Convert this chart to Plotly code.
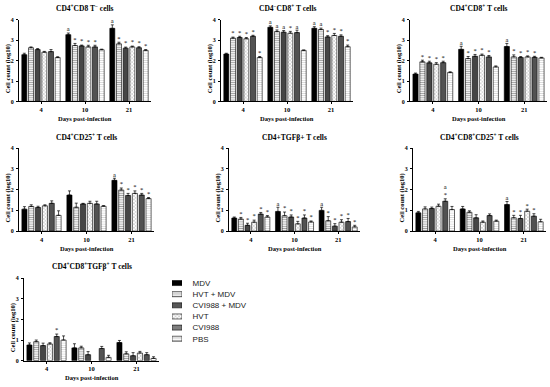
import plotly.graph_objects as go

series = ["MDV", "HVT + MDV", "CVI988 + MDV", "HVT", "CVI988", "PBS"]
days = ["4", "10", "21"]

titles = [
    "CD4<sup>+</sup>CD8 T<sup>−</sup> cells",
    "CD4<sup>−</sup>CD8<sup>+</sup> T cells",
    "CD4<sup>+</sup>CD8<sup>+</sup> T cells",
    "CD4<sup>+</sup>CD25<sup>+</sup> T cells",
    "CD4+TGFβ+ T cells",
    "CD4<sup>+</sup>CD8<sup>+</sup>CD25<sup>+</sup> T cells",
    "CD4<sup>+</sup>CD8<sup>+</sup>TGFβ<sup>+</sup> T cells",
]

# rows = series (MDV, HVT+MDV, CVI988+MDV, HVT, CVI988, PBS); columns = days 4, 10, 21
p1_mean = [[2.29, 3.27, 3.58], [2.63, 2.74, 2.82], [2.54, 2.72, 2.61], [2.41, 2.67, 2.67], [2.44, 2.67, 2.63], [2.15, 2.53, 2.50]]
p1_err = [[0.07, 0.08, 0.17], [0.04, 0.10, 0.08], [0.05, 0.04, 0.05], [0.04, 0.08, 0.04], [0.10, 0.08, 0.05], [0.04, 0.03, 0.04]]
p1_sig = [["", "a", "a"], ["", "*", "*"], ["", "*", "*"], ["", "*", "*"], ["", "*", "*"], ["", "", "*"]]

p2_mean = [[2.32, 3.63, 3.58], [3.10, 3.42, 3.52], [3.13, 3.39, 3.16], [3.07, 3.34, 3.23], [3.19, 3.37, 3.19], [2.15, 2.50, 2.68]]
p2_err = [[0.04, 0.07, 0.08], [0.05, 0.08, 0.07], [0.06, 0.08, 0.06], [0.06, 0.09, 0.10], [0.05, 0.12, 0.07], [0.05, 0.02, 0.08]]
p2_sig = [["", "a", "a"], ["*", "a", "a"], ["*", "a", "*"], ["*", "*", "*"], ["*", "a", "*"], ["*", "", "*"]]

p3_mean = [[1.34, 2.55, 2.69], [1.94, 2.10, 2.18], [1.89, 2.21, 2.15], [1.82, 2.26, 2.18], [1.90, 2.18, 2.16], [1.42, 1.69, 2.13]]
p3_err = [[0.05, 0.15, 0.15], [0.08, 0.10, 0.10], [0.08, 0.09, 0.05], [0.08, 0.06, 0.05], [0.07, 0.07, 0.05], [0.03, 0.05, 0.03]]
p3_sig = [["", "a", "a"], ["*", "*", "*"], ["*", "*", "*"], ["*", "*", "*"], ["*", "*", "*"], ["", "", ""]]

p4_mean = [[1.06, 1.74, 2.45], [1.19, 1.15, 1.98], [1.14, 1.31, 1.72], [1.22, 1.34, 1.82], [1.34, 1.31, 1.74], [0.76, 1.20, 1.57]]
p4_err = [[0.12, 0.20, 0.10], [0.08, 0.20, 0.10], [0.06, 0.03, 0.10], [0.05, 0.10, 0.12], [0.12, 0.13, 0.08], [0.22, 0.03, 0.05]]
p4_sig = [["", "", "a"], ["", "", "*"], ["", "", "*"], ["", "", "*"], ["", "", "*"], ["", "", "*"]]

p5_mean = [[0.63, 0.95, 1.00], [0.58, 0.74, 0.50], [0.28, 0.68, 0.24], [0.43, 0.35, 0.43], [0.82, 0.63, 0.46], [0.68, 0.44, 0.20]]
p5_err = [[0.05, 0.20, 0.15], [0.08, 0.18, 0.20], [0.10, 0.10, 0.12], [0.10, 0.12, 0.12], [0.08, 0.15, 0.15], [0.07, 0.05, 0.08]]
p5_sig = [["", "a", "a"], ["*", "*", "*"], ["*", "*", "*"], ["*", "*", "*"], ["*", "*", "*"], ["*", "*", "*"]]

p6_mean = [[0.88, 1.07, 1.28], [1.07, 0.91, 0.64], [1.09, 0.64, 0.61], [1.20, 0.43, 0.96], [1.44, 0.75, 0.72], [1.04, 0.48, 0.45]]
p6_err = [[0.07, 0.12, 0.15], [0.10, 0.07, 0.12], [0.07, 0.15, 0.15], [0.10, 0.06, 0.10], [0.12, 0.08, 0.12], [0.15, 0.05, 0.12]]
p6_sig = [["", "", "a"], ["", "", "*"], ["", "", "*"], ["", "", "*"], ["a<br>*", "", "*"], ["", "", ""]]

p7_mean = [[0.76, 0.62, 0.88], [0.92, 0.62, 0.33], [0.73, 0.29, 0.24], [0.81, None, 0.37], [1.17, 0.59, 0.29], [1.00, 0.16, 0.11]]
p7_err = [[0.10, 0.20, 0.10], [0.08, 0.08, 0.10], [0.12, 0.15, 0.15], [0.06, None, 0.08], [0.12, 0.10, 0.10], [0.20, 0.10, 0.08]]
p7_sig = [["", "", ""], ["", "", ""], ["", "", ""], ["", "", ""], ["*", "", ""], ["", "", ""]]

panels = [
    (p1_mean, p1_err, p1_sig), (p2_mean, p2_err, p2_sig), (p3_mean, p3_err, p3_sig),
    (p4_mean, p4_err, p4_sig), (p5_mean, p5_err, p5_sig), (p6_mean, p6_err, p6_sig),
    (p7_mean, p7_err, p7_sig),
]

# styles
bg = ["#000000", "#ffffff", "#333333", "#ffffff", "#5e5e5e", "#ffffff"]
shape = ["", "-", ".", "x", "|", "-"]
fg = ["#000000", "#444444", "#9a9a9a", "#555555", "#222222", "#b0b0b0"]
psize = [3, 2.2, 2, 2.5, 2, 2.2]
psol = [0.3, 0.45, 0.35, 0.3, 0.4, 0.35]

W, H = 550, 387
# plot area pixels: (x0, x1, ytop, ybottom)
boxes = [(19, 151, 17, 100), (221, 353, 17, 100), (410, 547, 17, 100),
         (19, 154, 147.5, 231.7), (229, 360, 147.5, 231.7), (413, 546, 147.5, 231.7),
         (24, 159, 279.5, 363.3)]
title_y = [5.5, 5.5, 5.5, 136.5, 136.5, 136.5, 267]
xtitle_y = [117.5, 117.5, 117.5, 249, 249, 249, 380]

serif = "Liberation Serif"
fig = go.Figure()
layout = dict(
    width=W, height=H, margin=dict(l=0, r=0, t=0, b=0),
    paper_bgcolor="white", plot_bgcolor="white",
    barmode="group", bargap=0.09, bargroupgap=0.25,
    scattermode="group", scattergap=0.09,
    showlegend=False, annotations=[],
)

for i, (mean, err, sig) in enumerate(panels):
    k = i + 1
    xa = "x" if k == 1 else f"x{k}"
    ya = "y" if k == 1 else f"y{k}"
    for s in range(6):
        fig.add_trace(go.Bar(
            x=days, y=mean[s], name=series[s], xaxis=xa, yaxis=ya,
            offsetgroup=str(s),
            marker=dict(color=bg[s], line=dict(color="black", width=0.6),
                        pattern=dict(shape=shape[s], fgcolor=fg[s], bgcolor=bg[s],
                                     size=psize[s], solidity=psol[s], fillmode="overlay")),
            error_y=dict(type="data", array=err[s], arrayminus=[0, 0, 0], symmetric=False,
                         color="black", thickness=0.7, width=1.5),
            hoverinfo="skip",
        ))
    for s in range(6):
        ytxt = [(m + e) if (m is not None and e is not None and t) else None
                for m, e, t in zip(mean[s], err[s], sig[s])]
        txt = [t if t else None for t in sig[s]]
        fig.add_trace(go.Scatter(
            x=days, y=ytxt, text=txt, mode="text", textposition="top center",
            textfont=dict(family=serif, size=6.5, color="black"),
            xaxis=xa, yaxis=ya, offsetgroup=str(s), cliponaxis=False, hoverinfo="skip",
        ))
    x0, x1, yt, yb = boxes[i]
    axstyle = dict(showline=True, linecolor="black", linewidth=1, ticks="outside",
                   ticklen=2, tickwidth=0.8, tickcolor="black", showgrid=False,
                   zeroline=False, fixedrange=True)
    layout["xaxis" if k == 1 else f"xaxis{k}"] = dict(
        domain=[x0 / W, x1 / W], anchor=ya, type="category",
        categoryorder="array", categoryarray=days,
        tickfont=dict(family=serif, size=6.5, color="black", weight="bold"), **axstyle)
    layout["yaxis" if k == 1 else f"yaxis{k}"] = dict(
        domain=[1 - yb / H, 1 - yt / H], anchor=xa, range=[0, 4],
        tickvals=[0, 1, 2, 3, 4], ticklabelstandoff=1,
        tickfont=dict(family=serif, size=6, color="black", weight="bold"), **axstyle)
    cx = (x0 + x1) / 2 / W
    layout["annotations"] += [
        dict(text=titles[i], x=cx, y=1 - title_y[i] / H, xref="paper", yref="paper",
             showarrow=False, xanchor="center", yanchor="middle",
             font=dict(family=serif, size=7.5, color="black", weight="bold")),
        dict(text="Days post-infection", x=cx, y=1 - xtitle_y[i] / H, xref="paper", yref="paper",
             showarrow=False, xanchor="center", yanchor="middle",
             font=dict(family=serif, size=6.5, color="black", weight="bold")),
        dict(text="Cell count (log10)", x=(x0 - 11.5) / W, y=1 - (yb - 0.4 * (yb - yt)) / H,
             xref="paper", yref="paper", textangle=-90,
             showarrow=False, xanchor="center", yanchor="middle",
             font=dict(family=serif, size=6.5, color="black", weight="bold")),
    ]

# legend drawn as a small horizontal-bar key on its own axis
fig.add_trace(go.Bar(
    y=series, x=[1] * 6, orientation="h", xaxis="x8", yaxis="y8", width=0.45,
    marker=dict(color=bg, line=dict(color="black", width=0.6),
                pattern=dict(shape=shape, fgcolor=fg, bgcolor=bg, size=psize,
                             solidity=psol, fillmode="overlay")),
    hoverinfo="skip",
))
layout["xaxis8"] = dict(domain=[172 / W, 182 / W], anchor="y8", range=[0, 1], visible=False, fixedrange=True)
layout["yaxis8"] = dict(domain=[1 - 346.7 / H, 1 - 278.8 / H], anchor="x8", type="category",
                        categoryorder="array", categoryarray=series, autorange="reversed",
                        side="right", showline=False, showgrid=False, zeroline=False,
                        ticks="outside", ticklen=8, tickcolor="rgba(0,0,0,0)",
                        tickfont=dict(family="Liberation Sans", size=8, color="#222"),
                        fixedrange=True)

fig.update_layout(**layout)
fig.write_html(
    "out.html",
    config={"displayModeBar": False},
    post_script="document.body.style.margin='0';document.body.style.overflow='hidden';",
)
